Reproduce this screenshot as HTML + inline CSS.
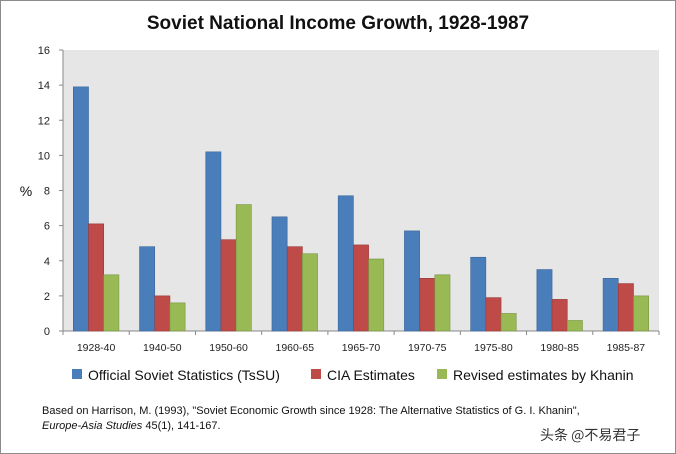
<!DOCTYPE html>
<html><head><meta charset="utf-8"><style>
body{margin:0;background:#fff;}
#wrap{position:relative;width:676px;height:454px;overflow:hidden;font-family:"Liberation Sans","Noto Sans CJK SC",sans-serif;}
</style></head><body>
<div id="wrap">
<svg id="chart" width="676" height="454" xmlns="http://www.w3.org/2000/svg">
<rect x="0.5" y="0.5" width="675" height="453" fill="#fff" stroke="#8c8c8c"/>
<text x="338" y="29" text-anchor="middle" font-size="19" font-weight="bold" fill="#111" font-family="Liberation Sans, sans-serif">Soviet National Income Growth, 1928-1987</text>
<rect x="63" y="50" width="596" height="281" fill="#e6e6e6"/>
<text x="26" y="196" text-anchor="middle" font-size="14" fill="#111">%</text>
<g id="axes"></g><g id="bars"></g>
<g font-size="14" fill="#111">
<rect x="72" y="369" width="10" height="10" fill="#4a7ebb"/>
<text x="88" y="380">Official Soviet Statistics (TsSU)</text>
<rect x="311" y="369" width="10" height="10" fill="#be4b48"/>
<text x="327" y="380">CIA Estimates</text>
<rect x="437" y="369" width="10" height="10" fill="#98b954"/>
<text x="453" y="380">Revised estimates by Khanin</text>
</g>
<text x="42" y="414" font-size="11" fill="#111">Based on Harrison, M. (1993), "Soviet Economic Growth since 1928: The Alternative Statistics of G. I. Khanin",</text>
<text x="42" y="429" font-size="11" fill="#111"><tspan font-style="italic">Europe-Asia Studies</tspan> 45(1),  141-167.</text>
<text x="540" y="440" font-size="14" fill="#333" font-family="Noto Sans CJK SC, sans-serif">头条 @不易君子</text>
</svg>
</div>
<script>
const categories=["1928-40","1940-50","1950-60","1960-65","1965-70","1970-75","1975-80","1980-85","1985-87"];
const officialValues=[13.9,4.8,10.2,6.5,7.7,5.7,4.2,3.5,3.0];
const ciaValues=[6.1,2.0,5.2,4.8,4.9,3.0,1.9,1.8,2.7];
const khaninValues=[3.2,1.6,7.2,4.4,4.1,3.2,1.0,0.6,2.0];
const yTicks=[0,2,4,6,8,10,12,14,16];
const NS="http://www.w3.org/2000/svg";
const X0=63,X1=659,Y0=331,Y1=50,YMAX=16;
const y=v=>Y0-(v/YMAX)*(Y0-Y1);
const bandW=(X1-X0)/categories.length;
const x=i=>X0+i*bandW;
function mk(tag,attrs,parent){const e=document.createElementNS(NS,tag);for(const k in attrs)e.setAttribute(k,attrs[k]);parent.appendChild(e);return e;}
const axes=document.getElementById('axes'),bars=document.getElementById('bars');
let l=mk('line',{x1:X0,y1:Y1,x2:X0,y2:Y0,stroke:'#888'},axes);


l=mk('line',{x1:X0,y1:Y0,x2:X1,y2:Y0,stroke:'#888'},axes);


yTicks.forEach(t=>{
 const tk=mk('line',{x1:X0-4,y1:y(t),x2:X0,y2:y(t),stroke:'#888'},axes);
 
 
 const tx=mk('text',{x:X0-13,y:y(t)+4,'text-anchor':'end','font-size':'11',fill:'#222'},axes);
 tx.textContent=t;
 
 
});
for(let i=0;i<=categories.length;i++){
 const tk=mk('line',{x1:x(i),y1:Y0,x2:x(i),y2:Y0+4,stroke:'#888'},axes);
 
 
}
const series=[[officialValues,'#4a7ebb','#3a659a','official'],[ciaValues,'#be4b48','#98393a','cia'],[khaninValues,'#98b954','#7a9642','khanin']];
const bw=15.2,groupW=bw*3;
categories.forEach((c,i)=>{
 const cx=x(i)+bandW/2;
 series.forEach((s,j)=>{
  const v=s[0][i];
  const r=mk('rect',{x:cx-groupW/2+j*bw,y:y(v),width:bw,height:Y0-y(v),fill:s[1],stroke:s[2],'stroke-width':'0.6'},bars);
  
  
 });
 const tx=mk('text',{x:cx,y:Y0+20,'text-anchor':'middle','font-size':'10.5',fill:'#222'},axes);
 tx.textContent=c;
 
 
});
</script>
</body></html>
